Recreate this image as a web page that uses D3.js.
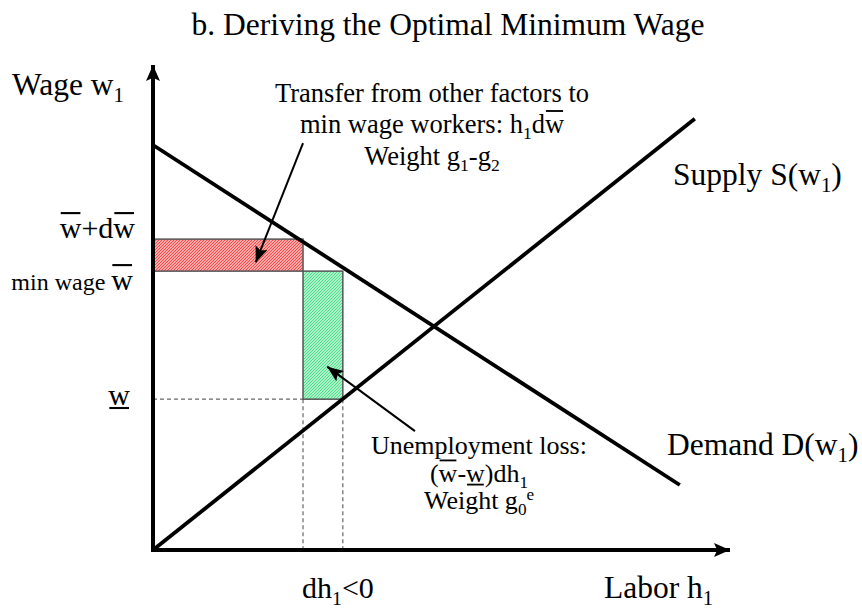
<!DOCTYPE html>
<html>
<head>
<meta charset="utf-8">
<script src="https://cdn.jsdelivr.net/npm/d3@7"></script>
<style>
  body { margin: 0; background: #fff; }
  text { font-family: "Liberation Serif", "Times New Roman", serif; fill: #000; }
</style>
</head>
<body>
<div class="chart"></div>
<script>
// data (economic units, both axes 0..100)
var hDomain = [0, 100];
var wDomain = [0, 100];
var demandPts = [[0, 83.5], [91.3, 13.4]];
var supplyPts = [[0, 0], [93.9, 88.9]];
var wBar = 57.5, wBarDw = 64.1, wLow = 31.1;
var hNew = 26.0, hOld = 32.9;
// annotation arrows [from, to] in data units
var arrowTransfer = [[26.0, 83.9], [17.8, 59.3]];
var arrowLoss = [[45.4, 24.5], [30.2, 37.8]];

var width = 862, height = 610;
var svg = d3.select(".chart").append("svg")
  .attr("width", width).attr("height", height);

var x = d3.scaleLinear().domain(hDomain).range([153, 730]);
var y = d3.scaleLinear().domain(wDomain).range([550, 65]);

var defs = svg.append("defs");
// arrow heads
function marker(id, len, wid) {
  defs.append("marker").attr("id", id)
    .attr("markerUnits", "userSpaceOnUse")
    .attr("viewBox", "0 0 " + len + " " + wid)
    .attr("markerWidth", len).attr("markerHeight", wid)
    .attr("refX", len).attr("refY", wid / 2)
    .attr("orient", "auto")
    .append("path")
    .attr("d", "M0,0 L" + len + "," + wid / 2 + " L0," + wid + " L" + len * 0.2 + "," + wid / 2 + " Z")
    .attr("fill", "#000");
}
marker("axisArrow", 16, 14);
marker("noteArrow", 16, 13);

// hatch patterns
function hatch(id, bg, fg) {
  var p = defs.append("pattern").attr("id", id)
    .attr("patternUnits", "userSpaceOnUse")
    .attr("width", 3).attr("height", 3);
  p.append("rect").attr("width", 3).attr("height", 3).attr("fill", bg);
  p.append("path").attr("d", "M-1,1 L1,-1 M0,3 L3,0 M2,4 L4,2")
    .attr("stroke", fg).attr("stroke-width", 1.1);
}
hatch("redHatch", "#ffd0d0", "#f54545");
hatch("greenHatch", "#d8fbe4", "#45de85");

// dashed guides
var guides = [
  [[0, wLow], [hOld, wLow]],
  [[hNew, wLow], [hNew, 0]],
  [[hOld, wLow], [hOld, 0]]
];
svg.selectAll(".guide").data(guides).enter().append("line")
  .attr("class", "guide")
  .attr("x1", function(d) { return x(d[0][0]); })
  .attr("y1", function(d) { return y(d[0][1]); })
  .attr("x2", function(d) { return x(d[1][0]); })
  .attr("y2", function(d) { return y(d[1][1]); })
  .attr("stroke", "#666").attr("stroke-width", 1.2)
  .attr("stroke-dasharray", "4,3");

// transfer (red) and loss (green) areas
svg.append("rect")
  .attr("x", x(0)).attr("y", y(wBarDw))
  .attr("width", x(hNew) - x(0)).attr("height", y(wBar) - y(wBarDw))
  .attr("fill", "url(#redHatch)").attr("stroke", "#555").attr("stroke-width", 1.5);
svg.append("rect")
  .attr("x", x(hNew)).attr("y", y(wBar))
  .attr("width", x(hOld) - x(hNew)).attr("height", y(wLow) - y(wBar))
  .attr("fill", "url(#greenHatch)").attr("stroke", "#555").attr("stroke-width", 1.5);

// demand and supply
var line = d3.line().x(function(d) { return x(d[0]); }).y(function(d) { return y(d[1]); });
svg.append("path").attr("d", line(demandPts))
  .attr("fill", "none").attr("stroke", "#000").attr("stroke-width", 3.8);
svg.append("path").attr("d", line(supplyPts))
  .attr("fill", "none").attr("stroke", "#000").attr("stroke-width", 3.8);

// axes
svg.append("line")
  .attr("x1", x(0)).attr("y1", y(0) + 2).attr("x2", x(0)).attr("y2", y(100))
  .attr("stroke", "#000").attr("stroke-width", 4).attr("marker-end", "url(#axisArrow)");
svg.append("line")
  .attr("x1", x(0) - 2).attr("y1", y(0)).attr("x2", x(100)).attr("y2", y(0))
  .attr("stroke", "#000").attr("stroke-width", 4).attr("marker-end", "url(#axisArrow)");

// annotation arrows
[arrowTransfer, arrowLoss].forEach(function(a) {
  svg.append("line")
    .attr("x1", x(a[0][0])).attr("y1", y(a[0][1]))
    .attr("x2", x(a[1][0])).attr("y2", y(a[1][1]))
    .attr("stroke", "#000").attr("stroke-width", 2)
    .attr("marker-end", "url(#noteArrow)");
});

// text with sub/superscripts and over/underlines
function rich(px, py, size, segs, anchor) {
  segs = segs.map(function(s) { return typeof s === "string" ? {t: s} : s; });
  var t = svg.append("text").attr("x", px).attr("y", py)
    .attr("font-size", size).attr("text-anchor", anchor || "start");
  var shift = 0;
  segs.forEach(function(s) {
    var ts = t.append("tspan").text(s.t);
    var target = s.sub ? size * 0.22 : s.sup ? -size * 0.36 : 0;
    if (target !== shift) { ts.attr("dy", target - shift); shift = target; }
    if (s.sub || s.sup) ts.attr("font-size", size * 0.66);
    if (s.fs) ts.attr("font-size", s.fs);
  });
  var node = t.node(), idx = 0;
  segs.forEach(function(s) {
    var n = s.t.length;
    if (s.over || s.under) {
      var x0 = node.getStartPositionOfChar(idx).x;
      var x1 = node.getEndPositionOfChar(idx + n - 1).x;
      var fs = s.fs || size;
      var ly = s.over ? py - fs * 0.83 : py + fs * 0.1;
      svg.append("line").attr("x1", x0 + 1).attr("x2", x1 - 1)
        .attr("y1", ly).attr("y2", ly)
        .attr("stroke", "#000").attr("stroke-width", fs * 0.07);
    }
    idx += n;
  });
}

rich(448, 35, 31.5, ["b. Deriving the Optimal Minimum Wage"], "middle");
rich(12, 95, 31.5, ["Wage w", {t: "1", sub: true}]);
rich(135, 238, 30, [{t: "w", over: true}, "+d", {t: "w", over: true}], "end");
rich(133, 290, 30, [{t: "min wage ", fs: 24}, {t: "w", over: true}], "end");
rich(130, 405, 30, [{t: "w", under: true}], "end");
rich(673, 185, 31.5, ["Supply S(w", {t: "1", sub: true}, ")"]);
rich(667, 455, 31.5, ["Demand D(w", {t: "1", sub: true}, ")"]);
rich(302, 598, 30, ["dh", {t: "1", sub: true}, "<0"]);
rich(604, 598, 31.5, ["Labor h", {t: "1", sub: true}]);

rich(432, 102, 26.5, ["Transfer from other factors to"], "middle");
rich(432, 133, 26.5, ["min wage workers: h", {t: "1", sub: true}, "d", {t: "w", over: true}], "middle");
rich(432, 165, 26.5, ["Weight g", {t: "1", sub: true}, "-g", {t: "2", sub: true}], "middle");

rich(479, 454, 26, ["Unemployment loss:"], "middle");
rich(479, 482, 26, ["(", {t: "w", over: true}, "-", {t: "w", under: true}, ")dh", {t: "1", sub: true}], "middle");
rich(479, 509, 26, ["Weight g", {t: "0", sub: true}, {t: "e", sup: true}], "middle");
</script>
</body>
</html>
